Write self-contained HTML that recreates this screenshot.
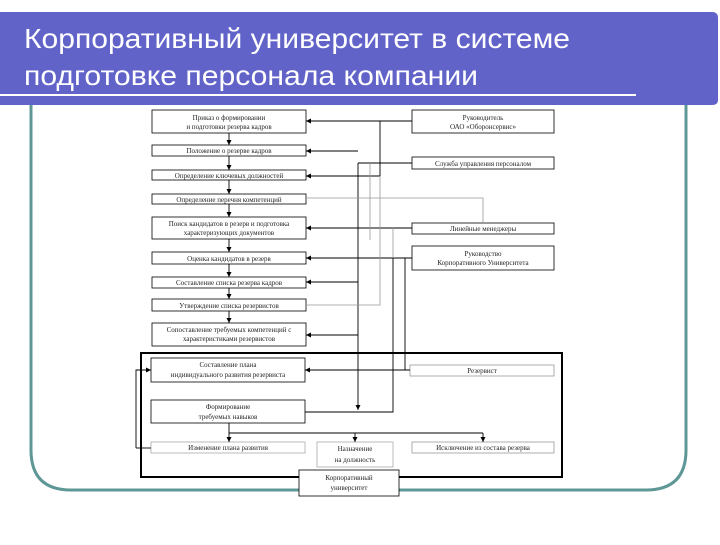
<!DOCTYPE html>
<html><head><meta charset="utf-8"><style>
body{margin:0;width:720px;height:540px;overflow:hidden;background:#fff;font-family:"Liberation Sans",sans-serif}
</style></head><body>
<svg width="720" height="540" viewBox="0 0 720 540" xmlns="http://www.w3.org/2000/svg">
<defs><marker id="a" markerWidth="6" markerHeight="6" refX="5" refY="3" orient="auto" markerUnits="userSpaceOnUse"><path d="M0,0.5 L5,3 L0,5.5z" fill="#000"/></marker></defs>
<path d="M31,100 V450 Q31,490 71,490 H646 Q686,490 686,450 V100" fill="none" stroke="#5f9797" stroke-width="3"/>
<path d="M0,12 H712 Q718,12 718,18 V100 Q718,105 712,105 H0z" fill="#6163c9"/>
<rect x="0" y="94" width="636" height="2" fill="#fff"/>
<text x="24" y="48" fill="#fff" font-size="28" textLength="546" lengthAdjust="spacingAndGlyphs" font-family="Liberation Sans, sans-serif">Корпоративный университет в системе</text>
<text x="24" y="85" fill="#fff" font-size="28" textLength="454" lengthAdjust="spacingAndGlyphs" font-family="Liberation Sans, sans-serif">подготовке персонала компании</text>
<g font-family="Liberation Serif, serif" font-size="7" text-anchor="middle" fill="#222">
<g fill="#fff" stroke="#000" stroke-width="0.8">
<rect x="152" y="110" width="154" height="23"/><rect x="412" y="110" width="142" height="23"/>
<rect x="152" y="145" width="154" height="11"/><rect x="412" y="157" width="142" height="12"/>
<rect x="152" y="170" width="154" height="10"/><rect x="152" y="194" width="154" height="10"/>
<rect x="152" y="217" width="154" height="22"/><rect x="412" y="223" width="142" height="11"/>
<rect x="412" y="246" width="142" height="24"/><rect x="152" y="252" width="154" height="12"/>
<rect x="152" y="277" width="154" height="11"/><rect x="152" y="299" width="154" height="12"/>
<rect x="152" y="323" width="154" height="23"/>
<rect x="141" y="353" width="421" height="124" stroke-width="2"/>
<rect x="151" y="358" width="154" height="24"/><rect x="410" y="365" width="144" height="11" stroke="#999"/>
<rect x="151" y="400" width="154" height="23"/>
<rect x="151" y="442" width="154" height="11" stroke="#aaa"/><rect x="317" y="442" width="76" height="25" stroke="#aaa"/>
<rect x="412" y="442" width="142" height="11" stroke="#999"/>
<rect x="299" y="470" width="100" height="26"/>
</g>
<text x="229" y="120">Приказ о формировании</text><text x="229" y="129">и подготовки резерва кадров</text>
<text x="483" y="120">Руководитель</text><text x="483" y="129">ОАО «Оборонсервис»</text>
<text x="229" y="153">Положение о резерве кадров</text>
<text x="483" y="166">Служба управления персоналом</text>
<text x="229" y="178">Определение ключевых должностей</text>
<text x="229" y="202">Определение перечня компетенций</text>
<text x="229" y="226">Поиск кандидатов в резерв и подготовка</text><text x="229" y="235">характеризующих документов</text>
<text x="483" y="231">Линейные менеджеры</text>
<text x="483" y="256">Руководство</text><text x="483" y="265">Корпоративного Университета</text>
<text x="229" y="261">Оценка кандидатов в резерв</text>
<text x="229" y="285">Составление списка резерва кадров</text>
<text x="229" y="308">Утверждение списка резервистов</text>
<text x="229" y="332">Сопоставление требуемых компетенций с</text><text x="229" y="341">характеристиками резервистов</text>
<text x="228" y="367">Составление плана</text><text x="228" y="377">индивидуального развития резервиста</text>
<text x="482" y="373">Резервист</text>
<text x="228" y="409">Формирование</text><text x="228" y="419">требуемых навыков</text>
<text x="228" y="450">Изменение плана развития</text>
<text x="355" y="451">Назначение</text><text x="355" y="462">на должность</text>
<text x="483" y="450">Исключение из состава резерва</text>
<text x="349" y="480">Корпоративный</text><text x="349" y="490">университет</text>
</g>
<g fill="none" stroke="#000" stroke-width="0.9" marker-end="url(#a)">
<path d="M229,133V145"/><path d="M229,156V170"/><path d="M229,180V194"/><path d="M229,204V217"/>
<path d="M229,239V252"/><path d="M229,264V277"/><path d="M229,288V299"/><path d="M229,311V323"/>
<path d="M412,121H306"/><path d="M358,151H306"/><path d="M380,176H306"/><path d="M412,228H306"/>
<path d="M412,258H306"/><path d="M358,282H306"/><path d="M358,335H306"/><path d="M410,370H305"/>
<path d="M229,423V442"/><path d="M355,433V442"/><path d="M483,433V442"/>
<path d="M358,163V410"/><path d="M136,448V370H151"/>
</g>
<g fill="none" stroke="#000" stroke-width="0.9">
<path d="M412,163H358"/><path d="M380,121V176"/><path d="M405,258V370"/><path d="M229,433H483"/><path d="M151,448H136"/>
<path d="M305,412H393V258"/>
</g>
<g fill="none" stroke="#999" stroke-width="0.8">
<path d="M370,163V240"/><path d="M483,223V198H306"/><path d="M380,176V305H306"/><path d="M393,228V258"/>
</g>
</svg>
</body></html>
